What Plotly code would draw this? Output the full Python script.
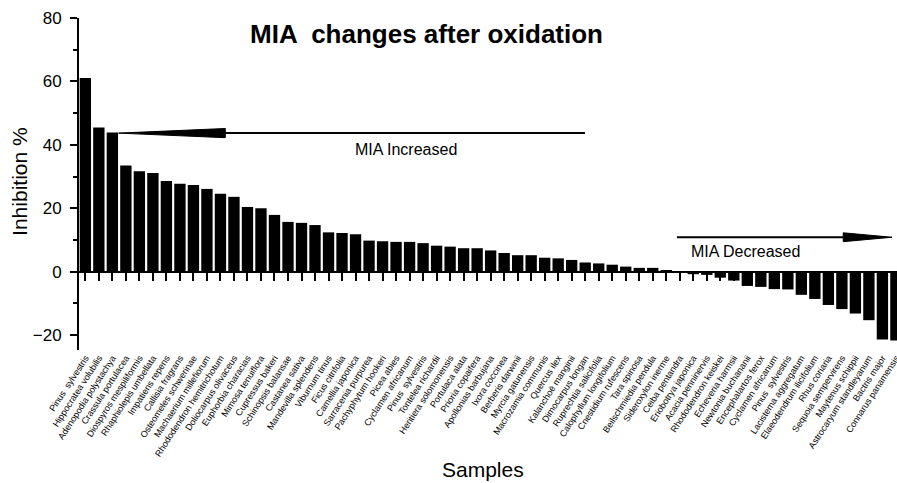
import plotly.graph_objects as go

samples = [
    "Pinus  sylvestris", "Hippocratea volubilis", "Adenopodia polystachya", "Crassula portulacea",
    "Diospyros mespiliformis", "Rhaphiolepis umbellata", "Impatiens repens", "Callisia fragrans",
    "Osteomeles schwerinae", "Machaerium millefiorum", "Rhododendron hemitrichotum", "Doliocarpus olivaceus",
    "Euphorbia characias", "Mimosa tenuiflora", "Cupressus bakeri", "Schinopsis balansae",
    "Castanea sativa", "Mandevilla splendens", "Viburnum tinus", "Ficus citrifolia",
    "Camellia japonica", "Sarracenia purpurea", "Pachyphytum hookeri", "Picea abies",
    "Cyclamen africanum", "Pinus  sylvestris", "Tontelea richardii", "Heritiera solomonensis",
    "Portulaca alata", "Prioria copaifera", "Apollonias barbujana", "Ixora coccinea",
    "Berberis darwinii", "Myrcia gatunensis", "Macrozamia communis", "Quercus ilex",
    "Kalanchoë manginii", "Dimocarpus longan", "Ruprechtia salicifolia", "Calophyllum longifolium",
    "Cnestidium rufescens", "Tara spinosa", "Beilschmiedia pendula", "Sideroxylon inerme",
    "Ceiba pentandra", "Eriobotrya japonica", "Acacia penninervis", "Rhododendron keiskei",
    "Echeveria harmsii", "Newtonia buchananii", "Encephalartos ferox", "Cyclamen africanum",
    "Pinus  sylvestris", "Lacistema aggregatum", "Elaeodendrum ilicifolium", "Rhus coriaria",
    "Sequoia sempervirens", "Maytenus schippii", "Astrocaryum standleyanum", "Bactris major",
    "Connarus panamensis",
]

inhibition = [
    61.1, 45.5, 43.9, 33.5, 31.7, 31.1, 28.6, 27.7, 27.3, 26.1,
    24.6, 23.6, 20.4, 20.0, 17.9, 15.7, 15.4, 14.7, 12.4, 12.2,
    11.8, 9.8, 9.6, 9.4, 9.4, 9.0, 8.2, 7.9, 7.4, 7.4,
    6.7, 5.9, 5.2, 5.2, 4.4, 4.2, 3.7, 2.9, 2.6, 2.2,
    1.6, 1.2, 1.2, 0.3, 0.1, -0.8, -1.0, -1.9, -2.8, -4.5,
    -4.8, -5.5, -5.6, -7.3, -8.6, -10.5, -11.8, -13.2, -15.3, -21.4,
    -21.7,
]

y_ticks = [-20, 0, 20, 40, 60, 80]

idx = list(range(len(samples)))
Y_MIN, Y_MAX = -24.7, 80
X_MIN, X_MAX = -0.47, 60.08
FONT = "Liberation Sans, Arial, sans-serif"

fig = go.Figure()
fig.add_trace(go.Bar(x=idx, y=inhibition, marker=dict(color="black", line=dict(width=0)),
                     xaxis="x", yaxis="y", showlegend=False, hoverinfo="skip"))
# invisible trace to carry the zero-line axis with ticks
fig.add_trace(go.Scatter(x=idx, y=[0] * len(idx), mode="markers", marker=dict(opacity=0),
                         xaxis="x2", yaxis="y", showlegend=False, hoverinfo="skip"))

zero_pos = (0 - Y_MIN) / (Y_MAX - Y_MIN)

def arrow_shapes(x_tail, x_tip, x_base, y, h):
    return [
        dict(type="line", xref="x", yref="y", x0=x_tail, x1=x_base, y0=y, y1=y,
             line=dict(color="black", width=2)),
        dict(type="path", xref="x", yref="y",
             path=f"M {x_tip},{y} L {x_base},{y + h} L {x_base},{y - h} Z",
             fillcolor="black", line=dict(color="black", width=1)),
    ]

shapes = arrow_shapes(36.98, 2.46, 10.36, 43.7, 1.45) + arrow_shapes(43.79, 59.71, 56.1, 10.86, 1.4)

fig.update_layout(
    width=897, height=483,
    margin=dict(l=79, r=0, t=18, b=133, autoexpand=False),
    plot_bgcolor="white", paper_bgcolor="white",
    bargap=0.16,
    font=dict(family=FONT, color="black"),
    xaxis=dict(range=[X_MIN, X_MAX], tickmode="array", tickvals=idx, ticktext=samples,
               tickangle=-57, tickfont=dict(size=9, family=FONT), showline=False, ticks="",
               showgrid=False, zeroline=False, anchor="y", ticklabeloverflow="allow",
               automargin=False),
    xaxis2=dict(range=[X_MIN, X_MAX], overlaying="x", matches="x", anchor="free", position=zero_pos,
                side="bottom", tickmode="array", tickvals=idx, showticklabels=False,
                showline=True, linecolor="black", linewidth=2, ticks="outside", ticklen=8,
                tickwidth=2, tickcolor="black", showgrid=False, zeroline=False, automargin=False),
    yaxis=dict(range=[Y_MIN, Y_MAX], tickmode="array", tickvals=y_ticks,
               ticks="outside", ticklen=7, tickwidth=2, tickcolor="black",
               showline=True, linecolor="black", linewidth=2, showgrid=False, zeroline=False,
               tickfont=dict(size=17, family=FONT), ticklabelstandoff=5, automargin=False,
               minor=dict(tickmode="array", tickvals=[-10, 10, 30, 50, 70], ticks="outside",
                          ticklen=4, tickwidth=2, tickcolor="black", showgrid=False)),
    shapes=shapes,
    annotations=[
        dict(text="<b>MIA  changes after oxidation</b>", xref="paper", yref="paper",
             x=0.4248, y=0.9518, xanchor="center", yanchor="middle", showarrow=False,
             font=dict(size=26, family=FONT)),
        dict(text="Inhibition %", xref="paper", yref="paper", x=-0.0735, y=0.509,
             textangle=-90, xanchor="center", yanchor="middle", showarrow=False,
             font=dict(size=21, family=FONT)),
        dict(text="Samples", xref="paper", yref="paper", x=0.494, y=-0.361,
             xanchor="center", yanchor="middle", showarrow=False, font=dict(size=21, family=FONT)),
        dict(text="MIA Increased", xref="x", yref="y", x=23.7, y=38.4, xanchor="center",
             yanchor="middle", showarrow=False, font=dict(size=16, family=FONT)),
        dict(text="MIA Decreased", xref="x", yref="y", x=48.9, y=6.5, xanchor="center",
             yanchor="middle", showarrow=False, font=dict(size=16, family=FONT)),
    ],
)

fig.write_html("out.html")
